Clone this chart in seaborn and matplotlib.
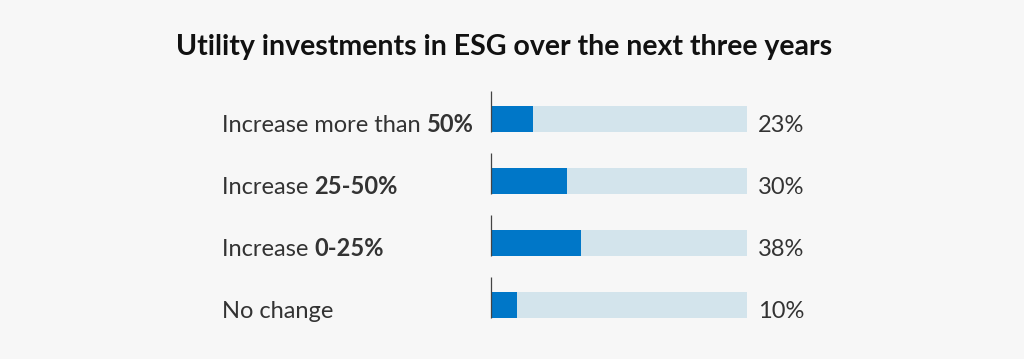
import numpy as np
import pandas as pd
import matplotlib
matplotlib.use("Agg")
import matplotlib.pyplot as plt
import seaborn as sns

# data
label_regular = ["Increase more than ", "Increase ", "Increase ", "No change"]
label_bold = ["50%", "25-50%", "0-25%", ""]
share_labels = ["23%", "30%", "38%", "10%"]
# bar lengths as drawn (share of the full track, in %)
bar_len = [16.5, 29.5, 35, 10]
track_len = [100, 100, 100, 100]

bg = "#f7f7f7"
blue = "#0077c8"
track = "#d3e4ec"
txt = "#333333"

sns.set_theme(style="white")
plt.rcParams["font.family"] = ["Lato", "DejaVu Sans"]

df = pd.DataFrame({"cat": [str(i) for i in range(4)], "val": bar_len, "full": track_len})

fig = plt.figure(figsize=(10.24, 3.59), dpi=100, facecolor=bg)
ax = fig.add_axes([491 / 1024, 1 - 335.5 / 359, 256 / 1024, 248 / 359])
ax.set_facecolor(bg)

bw = 26 / 62
sns.barplot(data=df, x="full", y="cat", color=track, width=bw, ax=ax,
            saturation=1, linewidth=0)
sns.barplot(data=df, x="val", y="cat", color=blue, width=bw, ax=ax,
            saturation=1, linewidth=0)

ax.set_xlim(0, 100)
ax.set_ylim(3.5, -0.5)
ax.axis("off")

# small vertical marker at the start of each bar
for i in range(4):
    ax.vlines(0, i - bw / 2 - 15 / 62, i + bw / 2, color="#444444",
              linewidth=0.9, clip_on=False, zorder=5)

tr = matplotlib.transforms.blended_transform_factory(fig.transFigure, ax.transData)
for i in range(4):
    y = i + bw / 2
    t = ax.text(222 / 1024, y, label_regular[i], transform=tr, fontsize=17,
                color=txt, va="baseline", ha="left")
    if label_bold[i]:
        ax.annotate(label_bold[i], xy=(1, 0), xycoords=t, fontsize=17,
                    color=txt, fontweight="bold", va="bottom", ha="left")
    ax.text(758 / 1024, y, share_labels[i], transform=tr, fontsize=17,
            color=txt, va="baseline", ha="left")

fig.text(504 / 1024, 1 - 47 / 359, "Utility investments in ESG over the next three years",
         fontsize=20.5, fontweight="bold", color="#111111", ha="center", va="center")

fig.savefig("out.png", dpi=100, facecolor=bg)
